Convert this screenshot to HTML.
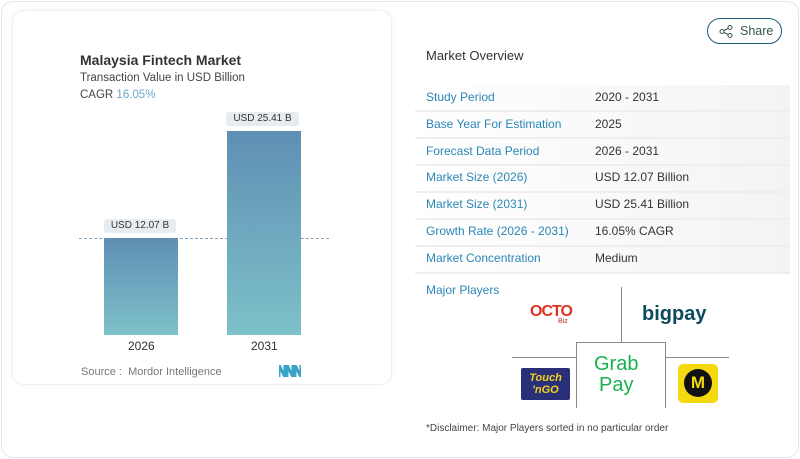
<!DOCTYPE html>
<html><head><style>
*{margin:0;padding:0;box-sizing:border-box}
body{width:800px;height:459px;background:#fff;font-family:"Liberation Sans",sans-serif;position:relative;overflow:hidden}
.abs{position:absolute;white-space:nowrap}
.outer{left:1px;top:1px;width:798px;height:457px;border:1px solid #e6e6e6;border-radius:12px}
.card{left:12px;top:10px;width:380px;height:375px;border:1px solid #f0f0f0;border-radius:12px;box-shadow:0 0 6px rgba(0,0,0,0.04)}
.bar{background:linear-gradient(#5f8fb4,#7dc1c9)}
.lbl{background:#e6ecef;border-radius:3px;font-size:10px;color:#333;text-align:center;line-height:14px}
.row{left:415px;width:375px;height:27px;border-bottom:2px solid #eee;background:linear-gradient(90deg,#fff,#f7f7f7 70%,#f3f3f3)}
.k{left:426px;font-size:12px;color:#2a87b5}
.v{left:595px;font-size:12px;color:#333}
</style></head><body>
<div class="abs outer"></div>
<div class="abs card"></div>
<div class="abs" style="left:80px;top:52px;font-size:14px;font-weight:bold;color:#333">Malaysia Fintech Market</div>
<div class="abs" style="left:80px;top:72px;font-size:11.5px;color:#444">Transaction Value in USD Billion</div>
<div class="abs" style="left:80px;top:89px;font-size:11.5px;color:#444">CAGR <span style="color:#6aa6c8">16.05%</span></div>
<div class="abs" style="left:79px;top:238px;width:250px;border-top:1px dashed #8aa3b5"></div>
<div class="abs bar" style="left:104px;top:238px;width:74px;height:97px"></div>
<div class="abs bar" style="left:227px;top:131px;width:74px;height:204px"></div>
<div class="abs lbl" style="left:104px;top:219px;width:72px">USD 12.07 B</div>
<div class="abs lbl" style="left:226px;top:112px;width:73px">USD 25.41 B</div>
<div class="abs" style="left:128px;top:339px;font-size:12px;color:#333">2026</div>
<div class="abs" style="left:251px;top:339px;font-size:12px;color:#333">2031</div>
<div class="abs" style="left:81px;top:366px;font-size:11px;color:#777">Source :&nbsp; Mordor Intelligence</div>
<svg class="abs" style="left:279px;top:365px" width="22" height="12"><path d="M0 12V0l6 12V0M8 12V0l6 12V0M16 12V0l6 12V0" stroke="#3aa5c7" stroke-width="3" fill="none"/></svg>
<div class="abs" style="left:707px;top:18px;width:75px;height:26px;border:1px solid #1e5b7a;border-radius:13px;font-size:12.5px;color:#355;line-height:24px;padding-left:32px">Share</div>
<svg class="abs" style="left:719px;top:25px" width="14" height="13"><circle cx="3" cy="6.5" r="2" fill="none" stroke="#355"/><circle cx="11" cy="2.5" r="2" fill="none" stroke="#355"/><circle cx="11" cy="10.5" r="2" fill="none" stroke="#355"/><path d="M5 5.5l4-2M5 7.5l4 2" stroke="#355"/></svg>
<div class="abs" style="left:426px;top:48px;font-size:13px;color:#333">Market Overview</div>
<div class="abs row" style="top:85px"></div>
<div class="abs row" style="top:112px"></div>
<div class="abs row" style="top:139px"></div>
<div class="abs row" style="top:166px"></div>
<div class="abs row" style="top:193px"></div>
<div class="abs row" style="top:220px"></div>
<div class="abs row" style="top:247px"></div>
<div class="abs k" style="top:90px">Study Period</div><div class="abs v" style="top:90px">2020 - 2031</div>
<div class="abs k" style="top:117px">Base Year For Estimation</div><div class="abs v" style="top:117px">2025</div>
<div class="abs k" style="top:144px">Forecast Data Period</div><div class="abs v" style="top:144px">2026 - 2031</div>
<div class="abs k" style="top:170px">Market Size (2026)</div><div class="abs v" style="top:170px">USD 12.07 Billion</div>
<div class="abs k" style="top:197px">Market Size (2031)</div><div class="abs v" style="top:197px">USD 25.41 Billion</div>
<div class="abs k" style="top:224px">Growth Rate (2026 - 2031)</div><div class="abs v" style="top:224px">16.05% CAGR</div>
<div class="abs k" style="top:251px">Market Concentration</div><div class="abs v" style="top:251px">Medium</div>
<div class="abs k" style="top:283px">Major Players</div>
<div class="abs" style="left:621px;top:287px;height:55px;border-left:1px solid #888"></div>
<div class="abs" style="left:512px;top:357px;width:217px;border-top:1px solid #888"></div>
<div class="abs" style="left:576px;top:342px;width:90px;height:66px;border:1px solid #888;border-bottom:none;background:#fff"></div>
<div class="abs" style="left:530px;top:303px;font-size:16px;font-weight:900;color:#d32;letter-spacing:-1px">OCTO</div>
<div class="abs" style="left:558px;top:318px;font-size:7px;color:#a33">Biz</div>
<div class="abs" style="left:642px;top:303px;font-size:20px;font-weight:bold;color:#0d4a5c">bigpay</div>
<div class="abs" style="left:521px;top:368px;width:49px;height:32px;background:#2a2f7a;border-radius:2px;color:#f3d21a;font-size:11px;font-weight:900;font-style:italic;line-height:12px;padding:4px 2px;text-align:center">Touch<br>'nGO</div>
<div class="abs" style="left:594px;top:354px;font-size:20px;color:#17b24d;line-height:21px;text-align:center">Grab<br>Pay</div>
<div class="abs" style="left:678px;top:364px;width:40px;height:39px;background:#f5d90f;border-radius:5px"></div>
<div class="abs" style="left:684px;top:369px;width:28px;height:28px;background:#111;border-radius:50%;color:#f5d90f;font-weight:bold;font-size:17px;text-align:center;line-height:28px">M</div>
<div class="abs" style="left:426px;top:423px;font-size:10px;color:#444">*Disclaimer: Major Players sorted in no particular order</div>
</body></html>
